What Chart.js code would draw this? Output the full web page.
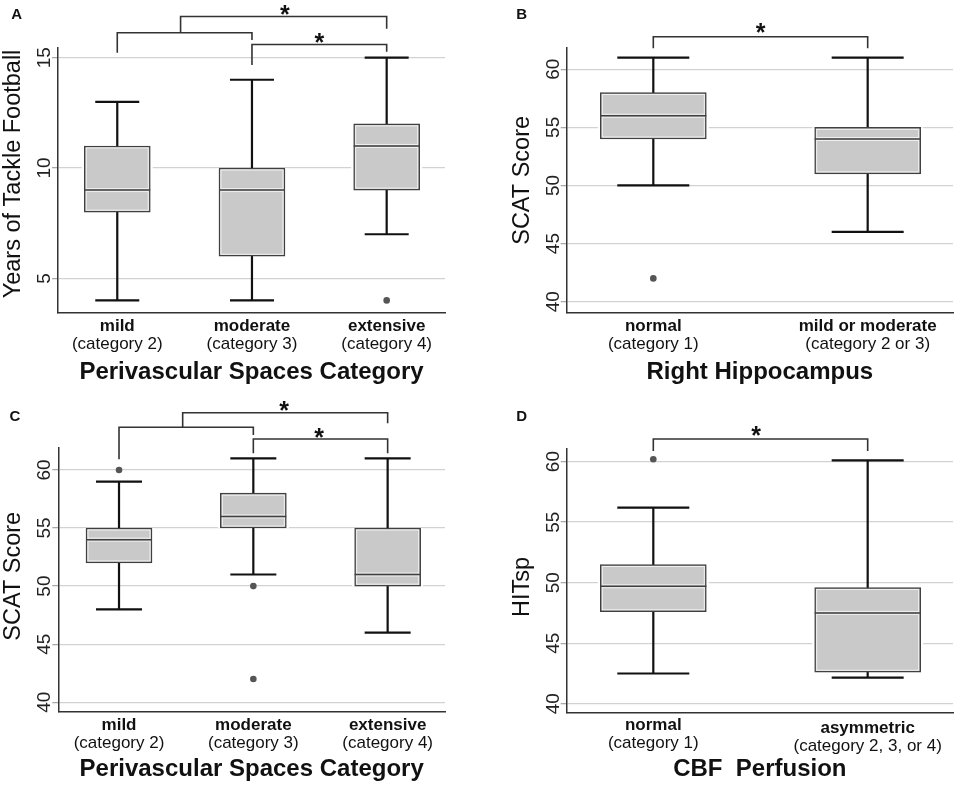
<!DOCTYPE html>
<html>
<head>
<meta charset="utf-8" />
<title>Box plots - perivascular spaces, hippocampus, CBF</title>
<script src="https://cdn.jsdelivr.net/npm/chart.js@4.4.1/dist/chart.umd.min.js"></script>
<style>
  body { margin: 0; background: #fff; }
  #wrap { position: relative; width: 957px; height: 787px; }
  #wrap canvas { position: absolute; }
</style>
</head>
<body>
<div id="wrap">
  <canvas id="chartA" width="479" height="390" style="left:0;top:0"></canvas>
  <canvas id="chartB" width="478" height="390" style="left:479px;top:0"></canvas>
  <canvas id="chartC" width="479" height="397" style="left:0;top:390px"></canvas>
  <canvas id="chartD" width="478" height="397" style="left:479px;top:390px"></canvas>
</div>
<script type="text/javascript">

    // A: years of tackle football by perivascular spaces category
    var groupsA = ['mild', 'moderate', 'extensive'];
    var subGroupsA = ['(category 2)', '(category 3)', '(category 4)'];
    var minA = [4, 4, 7];
    var q1A = [8, 6, 9];
    var medianA = [9, 9, 11];
    var q3A = [11, 10, 12];
    var maxA = [13, 14, 15];
    var outliersA = [[], [], [4]];
    var ticksA = [5, 10, 15];

    // B: SCAT score by right hippocampus
    var groupsB = ['normal', 'mild or moderate'];
    var subGroupsB = ['(category 1)', '(category 2 or 3)'];
    var minB = [50, 46];
    var q1B = [54, 51];
    var medianB = [56, 54];
    var q3B = [58, 55];
    var maxB = [61, 61];
    var outliersB = [[42], []];
    var ticksB = [40, 45, 50, 55, 60];

    // C: SCAT score by perivascular spaces category
    var groupsC = ['mild', 'moderate', 'extensive'];
    var subGroupsC = ['(category 2)', '(category 3)', '(category 4)'];
    var minC = [48, 51, 46];
    var q1C = [52, 55, 50];
    var medianC = [54, 56, 51];
    var q3C = [55, 58, 55];
    var maxC = [59, 61, 61];
    var outliersC = [[60], [50, 42], []];
    var ticksC = [40, 45, 50, 55, 60];

    // D: HITsp by CBF perfusion
    var groupsD = ['normal', 'asymmetric'];
    var subGroupsD = ['(category 1)', '(category 2, 3, or 4)'];
    var minD = [42.5, 42.15];
    var q1D = [47.6, 42.6];
    var medianD = [49.7, 47.5];
    var q3D = [51.5, 49.6];
    var maxD = [56.2, 60.1];
    var outliersD = [[60.2], []];
    var ticksD = [40, 45, 50, 55, 60];

    Chart.defaults.font.family = '"Liberation Sans", Arial, Helvetica, sans-serif';
    Chart.defaults.color = '#222';

    var FONT = '"Liberation Sans", Arial, Helvetica, sans-serif';

    function makePanel(p) {
        var W = p.size[0], H = p.size[1];

        var boxPlugin = {
            id: 'boxplot' + p.letter,
            beforeDatasetsDraw: function(chart) {
                var ctx = chart.ctx, xs = chart.scales.x, ys = chart.scales.y;
                var half = p.boxWidth / 2;
                ctx.save();
                // white halo so the grid stops short of the boxes
                ctx.fillStyle = '#fff';
                for (var j = 0; j < p.q1.length; j++) {
                    var bx = xs.getPixelForValue(j + 1);
                    var t = ys.getPixelForValue(p.q3[j]);
                    var b = ys.getPixelForValue(p.q1[j]);
                    ctx.fillRect(bx - half - 2.5, t, p.boxWidth + 5, b - t);
                }
                ctx.strokeStyle = '#111';
                ctx.lineWidth = 2.2;
                for (var i = 0; i < p.min.length; i++) {
                    var cx = xs.getPixelForValue(i + 1);
                    var yLo = ys.getPixelForValue(p.min[i]);
                    var yHi = ys.getPixelForValue(p.max[i]);
                    ctx.beginPath();
                    ctx.moveTo(cx, yLo);
                    ctx.lineTo(cx, yHi);
                    ctx.moveTo(cx - p.capHalf, yLo);
                    ctx.lineTo(cx + p.capHalf, yLo);
                    ctx.moveTo(cx - p.capHalf, yHi);
                    ctx.lineTo(cx + p.capHalf, yHi);
                    ctx.stroke();
                }
                ctx.restore();
            },
            afterDatasetsDraw: function(chart) {
                var ctx = chart.ctx, xs = chart.scales.x, ys = chart.scales.y;
                var half = p.boxWidth / 2;
                ctx.save();
                for (var i = 0; i < p.median.length; i++) {
                    var cx = xs.getPixelForValue(i + 1);
                    var yq1 = ys.getPixelForValue(p.q1[i]);
                    var yq3 = ys.getPixelForValue(p.q3[i]);
                    var ym = ys.getPixelForValue(p.median[i]);
                    // light inner outline
                    ctx.strokeStyle = '#f0f0f0';
                    ctx.lineWidth = 1;
                    ctx.strokeRect(cx - half + 2, yq3 + 2, 2 * half - 4, yq1 - yq3 - 4);
                    ctx.beginPath();
                    ctx.moveTo(cx - half + 2, ym - 1.5);
                    ctx.lineTo(cx + half - 2, ym - 1.5);
                    ctx.moveTo(cx - half + 2, ym + 1.5);
                    ctx.lineTo(cx + half - 2, ym + 1.5);
                    ctx.stroke();
                    // median
                    ctx.strokeStyle = '#404040';
                    ctx.lineWidth = 1.5;
                    ctx.beginPath();
                    ctx.moveTo(cx - half, ym);
                    ctx.lineTo(cx + half, ym);
                    ctx.stroke();
                }
                ctx.restore();
            },
            afterDraw: function(chart) {
                var ctx = chart.ctx, xs = chart.scales.x, area = chart.chartArea;
                ctx.save();
                // category labels, two lines
                ctx.textAlign = 'center';
                ctx.textBaseline = 'middle';
                ctx.fillStyle = '#111';
                for (var i = 0; i < p.groups.length; i++) {
                    var cx = xs.getPixelForValue(i + 1);
                    var sh = p.labelShift ? p.labelShift[i] : 0;
                    ctx.font = 'bold 17px ' + FONT;
                    ctx.fillText(p.groups[i], cx, area.bottom + 13.2 + sh);
                    ctx.font = '17px ' + FONT;
                    ctx.fillText(p.subGroups[i], cx, area.bottom + 31.3 + sh);
                }
                // significance brackets
                ctx.strokeStyle = '#333';
                ctx.lineWidth = 1.6;
                ctx.lineJoin = 'miter';
                p.brackets.forEach(function(path) {
                    ctx.beginPath();
                    path.forEach(function(pt, k) {
                        var x = xs.getPixelForValue(pt[0]);
                        if (k === 0) ctx.moveTo(x, pt[1]); else ctx.lineTo(x, pt[1]);
                    });
                    ctx.stroke();
                });
                ctx.font = 'bold 25px ' + FONT;
                ctx.textBaseline = 'alphabetic';
                p.stars.forEach(function(s) {
                    ctx.fillText('*', xs.getPixelForValue(s[0]), s[1] + 0.56 * 25);
                });
                // panel letter
                ctx.font = 'bold 15px ' + FONT;
                ctx.textBaseline = 'middle';
                ctx.fillText(p.letter, p.letterPos[0], p.letterPos[1]);
                ctx.restore();
            }
        };

        var bars = p.groups.map(function(g, i) {
            return {x: i + 1, y: [p.q1[i], p.q3[i]]};
        });
        var points = [];
        p.outliers.forEach(function(list, i) {
            list.forEach(function(v) { points.push({x: i + 1, y: v}); });
        });

        return new Chart(document.getElementById(p.canvas), {
            type: 'bar',
            data: {
                datasets: [{
                    type: 'scatter',
                    data: points,
                    pointRadius: 3.3,
                    backgroundColor: '#555',
                    borderWidth: 0
                }, {
                    type: 'bar',
                    data: bars,
                    backgroundColor: '#c9c9c9',
                    borderColor: '#404040',
                    borderWidth: 1.5,
                    borderSkipped: false,
                    barThickness: p.boxWidth
                }]
            },
            options: {
                responsive: false,
                animation: false,
                events: [],
                layout: {padding: {left: 0, top: p.area[1], right: W - p.area[2], bottom: 0}},
                plugins: {legend: {display: false}, tooltip: {enabled: false}},
                scales: {
                    x: {
                        type: 'linear',
                        min: p.xRange[0],
                        max: p.xRange[1],
                        offset: false,
                        afterBuildTicks: function(scale) {
                            scale.ticks = p.groups.map(function(g, i) { return {value: i + 1}; });
                        },
                        afterFit: function(scale) { scale.height = H - p.area[3]; },
                        grid: {display: false, offset: false},
                        border: {display: true, color: '#333', width: 1.5},
                        ticks: {display: false},
                        title: {
                            display: true,
                            text: p.xTitle,
                            color: '#111',
                            font: {size: 24, weight: 'bold'},
                            padding: {top: 0, bottom: p.xTitlePad}
                        }
                    },
                    y: {
                        type: 'linear',
                        min: p.yRange[0],
                        max: p.yRange[1],
                        afterBuildTicks: function(scale) {
                            scale.ticks = p.ticks.map(function(v) { return {value: v}; });
                        },
                        afterFit: function(scale) { scale.width = p.area[0]; },
                        grid: {color: '#d2d2d2', lineWidth: 1.3, drawTicks: true, tickLength: 6, tickColor: '#aaa'},
                        border: {display: true, color: '#333', width: 1.5},
                        ticks: {
                            minRotation: 90,
                            maxRotation: 90,
                            crossAlign: 'center',
                            padding: -3.5,
                            color: '#222',
                            font: {size: 19}
                        },
                        title: {
                            display: true,
                            text: p.yTitle,
                            color: '#111',
                            font: {size: 23.5},
                            padding: {top: p.yTitlePad, bottom: 0}
                        }
                    }
                }
            },
            plugins: [boxPlugin]
        });
    }

    makePanel({
        canvas: 'chartA', letter: 'A', letterPos: [16.7, 15], size: [479, 390],
        area: [58, 48, 445, 313], xRange: [0.560, 3.433], yRange: [3.43, 15.44],
        groups: groupsA, subGroups: subGroupsA, min: minA, q1: q1A, median: medianA,
        q3: q3A, max: maxA, outliers: outliersA, ticks: ticksA,
        boxWidth: 66, capHalf: 22,
        yTitle: '  Years of Tackle Football', yTitlePad: -1,
        xTitle: 'Perivascular Spaces Category', xTitlePad: 3.5,
        brackets: [
            [[1, 52.7], [1, 32.7], [2, 32.7], [2, 40]],
            [[1.47, 32.7], [1.47, 16.5], [3, 16.5], [3, 28.7]],
            [[2, 65], [2, 44.5], [3, 44.5], [3, 51.7]]
        ],
        stars: [[2.245, 8.7], [2.5, 37]]
    });

    makePanel({
        canvas: 'chartB', letter: 'B', letterPos: [42.7, 15], size: [478, 390],
        area: [87.7, 48, 474, 312.7], xRange: [0.596, 2.398], yRange: [39.05, 61.83],
        groups: groupsB, subGroups: subGroupsB, min: minB, q1: q1B, median: medianB,
        q3: q3B, max: maxB, outliers: outliersB, ticks: ticksB,
        boxWidth: 106, capHalf: 36,
        yTitle: 'SCAT Score', yTitlePad: 29.4,
        xTitle: 'Right Hippocampus', xTitlePad: 2.9,
        brackets: [
            [[1, 48.3], [1, 36.7], [2, 36.7], [2, 48.3]]
        ],
        stars: [[1.5, 26.7]]
    });

    makePanel({
        canvas: 'chartC', letter: 'C', letterPos: [15, 26.7], size: [479, 397],
        area: [58.3, 57.3, 445, 321.7], xRange: [0.548, 3.427], yRange: [39.19, 61.95],
        groups: groupsC, subGroups: subGroupsC, min: minC, q1: q1C, median: medianC,
        q3: q3C, max: maxC, outliers: outliersC, ticks: ticksC,
        boxWidth: 66, capHalf: 23,
        yTitle: ' SCAT Score', yTitlePad: -1,
        xTitle: 'Perivascular Spaces Category', xTitlePad: 3.2,
        brackets: [
            [[1, 69.3], [1, 37.3], [2, 37.3], [2, 45]],
            [[1.474, 37.3], [1.474, 22.7], [3, 22.7], [3, 33.3]],
            [[2, 63.3], [2, 49], [3, 49], [3, 63.3]]
        ],
        stars: [[2.23, 15], [2.49, 41.7]]
    });

    makePanel({
        canvas: 'chartD', letter: 'D', letterPos: [42.7, 26.7], size: [478, 397],
        area: [87.7, 58.3, 474, 322.7], xRange: [0.596, 2.398], yRange: [39.26, 61.1],
        groups: groupsD, subGroups: subGroupsD, min: minD, q1: q1D, median: medianD,
        q3: q3D, max: maxD, outliers: outliersD, ticks: ticksD,
        boxWidth: 106, capHalf: 36, labelShift: [-1, 2.2],
        yTitle: 'HITsp  ', yTitlePad: 29.4,
        xTitle: 'CBF  Perfusion', xTitlePad: 3.2,
        brackets: [
            [[1, 61], [1, 49], [2, 49], [2, 61]]
        ],
        stars: [[1.48, 40]]
    });

</script>
</body>
</html>
